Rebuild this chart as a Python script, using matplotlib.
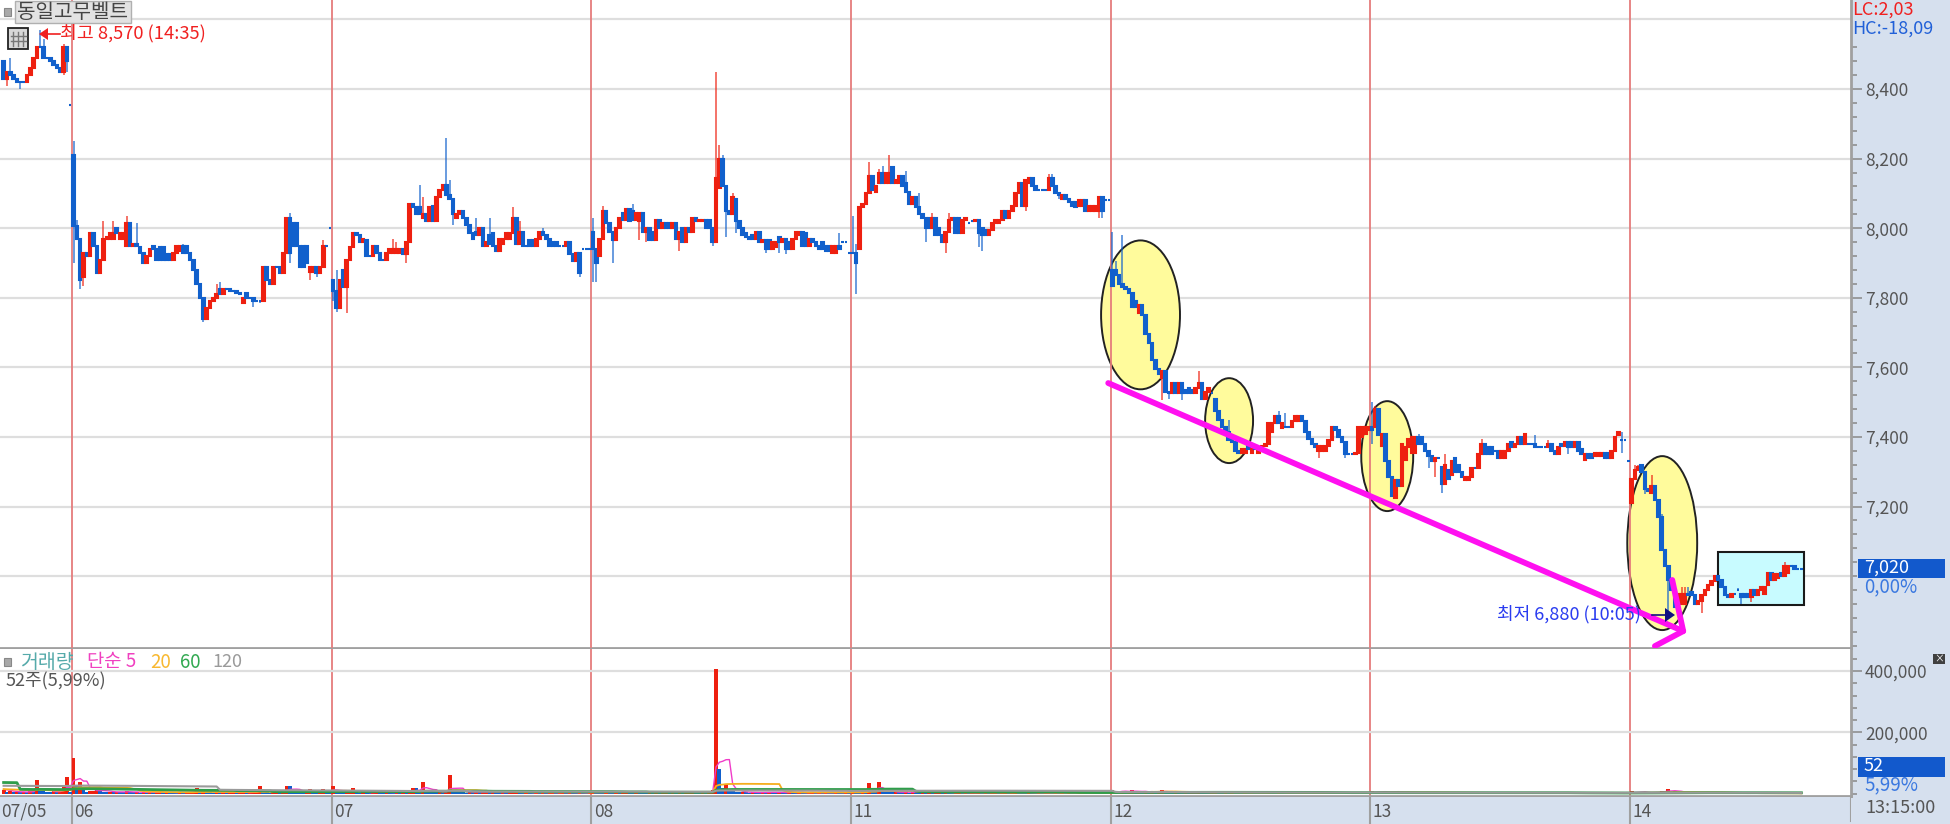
import matplotlib
matplotlib.use("Agg")
import matplotlib.pyplot as plt
from matplotlib.patches import Ellipse, Rectangle
import numpy as np
import pandas as pd

plt.rcParams['font.family'] = ['Noto Sans CJK KR', 'DejaVu Sans']

# ---------- data: 5-minute candles, closes per session ----------
day_labels = ['07/05', '06', '07', '08', '11', '12', '13', '14']
day_starts = [0, 21, 99, 177, 255, 333, 411, 489]

close_0705 = [8430, 8450, 8440, 8430, 8420, 8420, 8420, 8440, 8460, 8490, 8520, 8520, 8490, 8490, 8480, 8470, 8460, 8450, 8520, 8480, 8354]
close_0706 = [8005, 7970, 7850, 7930, 7920, 7985, 7950, 7870, 7910, 7970,
              7975, 7985, 7985, 7985, 7985, 7985, 8015, 7950, 7955, 7950,
              7930, 7900, 7920, 7940, 7940, 7910, 7910, 7910, 7910, 7910,
              7930, 7950, 7950, 7930, 7930, 7910, 7880, 7840, 7800, 7740,
              7770, 7790, 7800, 7810, 7810, 7825, 7825, 7820, 7820, 7815,
              7810, 7800, 7800, 7800, 7790, 7790, 7790, 7890, 7850, 7840,
              7890, 7890, 7870, 7930, 8030, 7930, 7950, 7950, 7890, 7890,
              7900, 7890, 7890, 7870, 7890, 7950, 7950, 8000]
close_0707 = [7820, 7770, 7850, 7830, 7910, 7945, 7985, 7980, 7960, 7970,
              7920, 7920, 7950, 7930, 7910, 7910, 7930, 7940, 7940, 7940,
              7940, 7925, 7960, 8070, 8060, 8040, 8040, 8040, 8020, 8060,
              8020, 8090, 8110, 8125, 8095, 8085, 8040, 8040, 8050, 8030,
              8010, 7985, 7970, 7980, 8000, 7950, 7960, 7955, 7950, 7935,
              7970, 7970, 7985, 7985, 8030, 7955, 7990, 7950, 7950, 7950,
              7950, 7970, 7990, 7980, 7970, 7950, 7950, 7950, 7950, 7950,
              7960, 7925, 7905, 7930, 7870, 7940, 7940, 7940]
close_0708 = [7940, 7900, 7970, 8050, 8015, 7990, 7965, 8000, 8030, 8025,
              8055, 8020, 8025, 8045, 8045, 7990, 8000, 7965, 7965, 8025,
              8000, 8015, 8000, 8000, 8015, 7970, 7990, 7960, 8000, 7990,
              8030, 8020, 8025, 8025, 8000, 8000, 7960, 8145, 8200, 8120,
              8050, 8040, 8090, 8020, 8000, 7980, 7975, 7970, 7970, 7990,
              7960, 7965, 7940, 7940, 7960, 7960, 7960, 7970, 7940, 7940,
              7970, 7990, 7990, 7950, 7950, 7970, 7960, 7950, 7940, 7940,
              7935, 7935, 7950, 7950, 7940, 7960, 7960, 7930]
close_0711 = [7930, 7900, 8060, 8070, 8100, 8150, 8110, 8120, 8160, 8130,
              8160, 8160, 8130, 8140, 8150, 8120, 8105, 8070, 8090, 8060,
              8040, 8030, 8000, 8000, 8030, 7980, 7980, 7960, 7990, 8025,
              8030, 7985, 7985, 8025, 8030, 8015, 8020, 8025, 7985, 7980,
              7980, 7995, 8015, 8025, 8025, 8050, 8030, 8050, 8065, 8100,
              8130, 8065, 8140, 8145, 8120, 8110, 8110, 8110, 8110, 8145,
              8120, 8100, 8095, 8095, 8085, 8075, 8065, 8060, 8080, 8080,
              8050, 8065, 8065, 8065, 8090, 8050, 8080, 8080]
close_0712 = [7835, 7865, 7840, 7830, 7825, 7815, 7775, 7775, 7780, 7750,
              7695, 7670, 7620, 7595, 7580, 7590, 7530, 7525, 7555, 7525,
              7555, 7525, 7525, 7525, 7525, 7540, 7555, 7510, 7530, 7540,
              7525, 7475, 7450, 7430, 7415, 7390, 7385, 7360, 7355, 7365,
              7365, 7365, 7365, 7365, 7365, 7375, 7380, 7440, 7440, 7460,
              7440, 7440, 7430, 7430, 7445, 7460, 7460, 7445, 7415, 7395,
              7380, 7370, 7375, 7375, 7375, 7390, 7430, 7420, 7400, 7385,
              7350, 7350, 7350, 7355, 7430, 7430, 7430, 7430]
close_0713 = [7420, 7480, 7405, 7410, 7330, 7285, 7230, 7275, 7260, 7380,
              7370, 7395, 7400, 7400, 7380, 7380, 7360, 7345, 7330, 7340,
              7340, 7265, 7320, 7280, 7330, 7300, 7300, 7285, 7285, 7285,
              7310, 7310, 7350, 7380, 7350, 7350, 7350, 7360, 7340, 7360,
              7360, 7380, 7370, 7380, 7400, 7380, 7410, 7380, 7380, 7370,
              7370, 7370, 7370, 7380, 7360, 7350, 7370, 7375, 7385, 7370,
              7370, 7385, 7360, 7350, 7350, 7340, 7340, 7355, 7355, 7355,
              7340, 7340, 7360, 7400, 7415, 7390, 7390, 7330]
close_0714 = [7280, 7305, 7315, 7300, 7250, 7245, 7260, 7220, 7170, 7075,
              7030, 6990, 6960, 6910, 6950, 6950, 6950, 6945, 6945, 6920,
              6930, 6945, 6960, 6975, 6985, 7000, 6990, 6970, 6945, 6940,
              6950, 6950, 6960, 6940, 6940, 6940, 6960, 6945, 6960, 6970,
              6970, 7010, 6990, 7005, 7005, 7000, 7030, 7030, 7030, 7020,
              7020, 7020]

# opens that do not equal the previous close (gaps, blocks)
open_0705 = {0: 8480, 20: 8354}
open_0706 = {0: 8210, 3: 7860, 11: 7970, 12: 7970, 13: 8000, 14: 7970, 15: 7970, 16: 7950, 18: 7950, 20: 7945,
             24: 7950, 26: 7945, 27: 7945, 28: 7925, 29: 7925, 32: 7935, 33: 7950, 34: 7950, 44: 7825, 51: 7785,
             52: 7815, 66: 8015, 67: 8015, 68: 7950, 69: 7950, 70: 7950, 71: 7875, 72: 7875, 76: 7950, 77: 8000}
open_0707 = {0: 7850, 3: 7880, 10: 7965, 12: 7920, 13: 7950, 18: 7930, 19: 7930, 20: 7930, 25: 8060, 26: 8060,
             27: 8030, 30: 8065, 37: 8030, 43: 7990, 47: 7980, 48: 7985, 51: 7955, 53: 7970, 59: 7965, 60: 7965, 66: 7960,
             67: 7960, 68: 7950, 69: 7950, 75: 7940, 76: 7940, 77: 7940}
open_0708 = {0: 7990, 2: 7920, 9: 8045, 12: 8050, 14: 8020, 18: 7990, 23: 8015, 25: 8015, 27: 8000, 32: 8020, 33: 8020,
             35: 8025, 37: 7960, 38: 8115, 39: 8200, 43: 8085, 46: 7985, 48: 7980, 53: 7965, 55: 7945, 56: 7975, 59: 7960,
             60: 7940, 62: 7980, 64: 7985, 65: 7950, 69: 7960, 70: 7950, 71: 7950, 72: 7930, 73: 7930, 75: 7960, 76: 7960, 77: 7930}
open_0711 = {0: 7930, 2: 7940, 7: 8105, 8: 8130, 10: 8130, 11: 8130, 12: 8175, 13: 8130, 14: 8130, 16: 8130, 19: 8090,
             23: 8030, 26: 8000, 31: 8030, 32: 8030, 33: 7985, 35: 8015, 36: 8020, 37: 8020, 39: 8000, 40: 7995,
             44: 8015, 47: 8030, 53: 8130, 56: 8110, 57: 8110, 58: 8110, 63: 8085, 67: 8075, 68: 8065, 69: 8065, 72: 8050, 73: 8050,
             74: 8050, 75: 8090, 76: 8080, 77: 8080}
open_0712 = {0: 7880, 1: 7880, 7: 7790, 8: 7755, 15: 7570, 20: 7525, 22: 7535, 23: 7540, 24: 7535, 28: 7510, 30: 7525,
             31: 7510, 39: 7355, 40: 7355, 41: 7375, 42: 7355, 43: 7375, 44: 7355, 48: 7415, 51: 7425, 52: 7430, 53: 7430, 56: 7445,
             62: 7360, 63: 7360, 64: 7360, 75: 7400, 76: 7410, 77: 7420}
open_0713 = {0: 7430, 1: 7430, 3: 7375, 7: 7225, 10: 7335, 12: 7355, 13: 7355, 15: 7400, 20: 7340, 21: 7315, 23: 7305, 24: 7290,
             25: 7340, 26: 7320, 28: 7275, 29: 7275, 30: 7285, 31: 7310, 35: 7370, 36: 7370, 37: 7360, 40: 7340, 42: 7385,
             45: 7400, 47: 7380, 48: 7380, 50: 7370, 51: 7370, 52: 7370, 53: 7370, 55: 7360, 56: 7350, 57: 7380, 59: 7385, 60: 7385,
             63: 7365, 64: 7335, 65: 7350, 66: 7350, 67: 7345, 68: 7345, 69: 7345, 71: 7355, 73: 7360, 74: 7405, 75: 7390, 76: 7390, 77: 7330}
open_0714 = {0: 7210, 3: 7320, 6: 7240, 14: 6920, 15: 6920, 16: 6920, 18: 6955, 32: 6960, 33: 6950, 34: 6950, 35: 6950,
             36: 6940, 38: 6945, 40: 6950, 41: 6975, 44: 6995, 45: 7010, 47: 7010, 50: 7020, 51: 7020}

# wick extremes, candle number within the session : price
high_0705 = {2: 8490, 11: 8570, 12: 8545, 18: 8530}
low_0705 = {1: 8410, 5: 8400, 18: 8440, 19: 8450}
high_0706 = {0: 8250, 1: 8025, 9: 8020, 12: 8020, 16: 8035, 19: 8015, 33: 7955, 43: 7840, 44: 7845, 65: 8045, 70: 7950, 75: 7965}
low_0706 = {0: 7900, 2: 7825, 3: 7835, 39: 7730, 54: 7775, 56: 7785, 57: 7815, 65: 7900, 71: 7850, 73: 7860}
high_0707 = {1: 7880, 18: 7970, 19: 7960, 26: 8125, 27: 8090, 34: 8260, 35: 8140, 43: 8030, 47: 8030, 54: 8060, 56: 8020, 63: 8000}
low_0707 = {0: 7790, 1: 7760, 4: 7755, 22: 7900, 36: 8010, 74: 7860}
high_0708 = {0: 8030, 3: 8065, 11: 8050, 12: 8070, 37: 8450, 38: 8240, 39: 8210, 42: 8100, 74: 7985}
low_0708 = {0: 7845, 1: 7845, 6: 7900, 14: 7965, 16: 7960, 26: 7935, 36: 7950, 40: 7975, 43: 7985, 52: 7930, 56: 7930, 58: 7925}
high_0711 = {0: 8035, 1: 7955, 5: 8190, 8: 8170, 9: 8180, 11: 8210, 16: 8165, 20: 8100, 24: 8045, 29: 8045, 49: 8085, 59: 8155, 60: 8155}
low_0711 = {1: 7810, 2: 7985, 22: 7960, 27: 7965, 28: 7930, 38: 7945, 39: 7935, 52: 8050, 62: 8085, 74: 8030, 75: 8030}
high_0712 = {0: 7990, 1: 7905, 3: 7980, 26: 7590, 35: 7450, 50: 7475, 52: 7470}
low_0712 = {15: 7505, 17: 7510, 18: 7530, 21: 7505, 62: 7340, 70: 7340}
high_0713 = {0: 7500, 1: 7490, 14: 7410, 22: 7350, 33: 7395, 49: 7405, 53: 7390, 75: 7415}
low_0713 = {0: 7380, 17: 7310, 19: 7285, 21: 7240, 59: 7350, 75: 7355}
high_0714 = {1: 7320, 2: 7320, 3: 7320, 6: 7290, 9: 7180, 15: 6970, 16: 6970, 17: 6970, 32: 6965, 46: 7040}
low_0714 = {4: 7235, 11: 6880, 21: 6895, 33: 6920, 36: 6925}

# volume per candle, thousands of shares
vol_0705 = [12, 6, 8, 5, 7, 4, 6, 5, 9, 8, 45, 10, 9, 6, 5, 8, 4, 12, 22, 55, 7]
vol_0706 = [118, 28, 39, 14, 6, 8, 10, 14, 12, 7, 5, 6, 4, 7, 6, 5, 8, 5, 4, 6, 3, 5, 4, 7, 3, 4, 6, 3, 5, 4,
            4, 3, 7, 3, 4, 5, 6, 20, 7, 8, 5, 4, 3, 6, 4, 5, 3, 4, 7, 3, 4, 5, 3, 4, 6, 7, 26, 5, 4, 3,
            5, 6, 4, 8, 26, 26, 9, 5, 4, 3, 6, 14, 4, 3, 6, 14, 8, 5]
vol_0707 = [26, 9, 6, 4, 5, 7, 20, 5, 3, 4, 4, 3, 5, 6, 4, 3, 5, 4, 3, 6, 4, 5, 3, 4, 20, 20, 9, 39, 10, 6,
            5, 4, 6, 3, 5, 60, 12, 8, 5, 4, 3, 6, 4, 5, 3, 4, 7, 3, 5, 4, 3, 5, 4, 6, 7, 9, 4, 3, 5, 4,
            3, 6, 4, 5, 3, 4, 5, 3, 4, 6, 3, 5, 4, 3, 5, 4, 3, 5]
vol_0708 = [8, 6, 5, 4, 7, 5, 3, 6, 4, 5, 7, 6, 4, 8, 5, 4, 3, 6, 4, 5, 3, 4, 6, 3, 5, 4, 7, 3, 4, 5,
            6, 4, 3, 5, 4, 8, 12, 407, 82, 20, 33, 14, 9, 7, 5, 6, 4, 3, 5, 4, 3, 5, 4, 6, 4, 3, 5, 4, 3, 6,
            4, 3, 5, 4, 3, 4, 5, 3, 4, 3, 5, 4, 3, 6, 4, 3, 5, 4]
vol_0711 = [7, 6, 5, 9, 6, 36, 8, 7, 39, 10, 6, 5, 4, 7, 5, 4, 6, 3, 5, 4, 3, 5, 4, 6, 3, 4, 5, 3, 6, 4,
            3, 4, 5, 3, 4, 2, 3, 4, 5, 3, 4, 3, 4, 5, 3, 4, 5, 3, 4, 6, 5, 4, 3, 5, 3, 2, 3, 2, 3, 4,
            3, 4, 3, 5, 3, 4, 3, 2, 3, 4, 3, 2, 3, 3, 4, 3, 2, 3]
vol_0712 = [12, 8, 5, 10, 6, 9, 11, 5, 8, 4, 10, 5, 7, 3, 9, 12, 6, 4, 3, 5, 3, 2, 3, 2, 3, 4, 5, 4, 3, 2,
            3, 6, 5, 3, 4, 3, 6, 4, 3, 2, 3, 2, 3, 2, 2, 3, 4, 8, 5, 3, 4, 2, 2, 3, 3, 2, 3, 2, 3, 2,
            2, 3, 2, 3, 4, 3, 2, 2, 3, 2, 3, 2, 2, 3, 5, 3, 2, 3]
vol_0713 = [10, 5, 6, 4, 8, 7, 6, 7, 5, 7, 4, 5, 3, 4, 3, 2, 3, 2, 2, 3, 2, 4, 3, 2, 3, 2, 2, 3, 2, 2,
            2, 3, 4, 3, 2, 2, 2, 2, 2, 2, 3, 2, 2, 3, 2, 2, 3, 2, 2, 2, 2, 2, 2, 1, 2, 2, 3, 2, 2, 2,
            2, 2, 2, 2, 2, 2, 2, 2, 2, 2, 1, 2, 3, 2, 3, 2, 2, 2]
vol_0714 = [8, 6, 5, 5, 4, 3, 3, 5, 6, 10, 8, 14, 6, 10, 5, 4, 3, 2, 2, 3, 2, 3, 2, 2, 3, 3, 2, 3, 2, 2,
            2, 1, 1, 2, 1, 1, 2, 1, 1, 1, 1, 2, 1, 2, 1, 1, 2, 1, 1, 1, 1, 0.052]
# the 120 candles before the visible window, needed by the moving averages
vol_prior = [16, 14, 18, 12, 15, 17, 13, 16, 14, 19, 15, 13, 17, 14, 16, 12, 18, 15, 14, 16,
             13, 17, 15, 14, 16, 18, 12, 15, 17, 13, 16, 14, 19, 15, 13, 17, 14, 16, 12, 18,
             15, 14, 16, 13, 17, 15, 14, 16, 18, 12, 15, 17, 13, 16, 14, 19, 15, 13, 17, 14,
             16, 12, 18, 15, 14, 1300, 16, 13, 17, 15, 14, 16, 18, 12, 15, 17, 13, 16, 14, 19,
             15, 13, 17, 14, 16, 12, 18, 15, 14, 16, 13, 17, 15, 14, 16, 18, 12, 15, 17, 13,
             16, 14, 19, 15, 13, 17, 14, 16, 12, 18, 15, 14, 16, 13, 17, 15, 14, 16, 18, 12]

ma_windows = [5, 20, 60, 120]
ma_colors = ['#F03CC8', '#F5AE1E', '#2E9E4A', '#9A9A9A']
ma_widths = [1.0, 1.3, 2.0, 1.5]

price_major = [7200, 7400, 7600, 7800, 8000, 8200, 8400]
price_grid = [7000, 7200, 7400, 7600, 7800, 8000, 8200, 8400, 8600]
vol_major = [200000, 400000]

ellipse_x = [341.5, 368.1, 415.6, 498.2]
ellipse_w = [23.7, 14.4, 15.6, 21.0]
ellipse_y = [7751, 7447, 7345, 7095]
ellipse_h = [428, 244, 316, 500]
trend_x = [331.8, 504.5]
trend_y = [7555, 6842]
arrow_x = [501.2, 504.5, 496.0]
arrow_y = [6989, 6842, 6799]
box_x = [515.0, 540.8]
box_y = [6917, 7069]

# ---------- assemble ----------
RED, BLUE = '#EE2010', '#1160CC'
sessions = [
    (close_0705, open_0705, high_0705, low_0705, vol_0705),
    (close_0706, open_0706, high_0706, low_0706, vol_0706),
    (close_0707, open_0707, high_0707, low_0707, vol_0707),
    (close_0708, open_0708, high_0708, low_0708, vol_0708),
    (close_0711, open_0711, high_0711, low_0711, vol_0711),
    (close_0712, open_0712, high_0712, low_0712, vol_0712),
    (close_0713, open_0713, high_0713, low_0713, vol_0713),
    (close_0714, open_0714, high_0714, low_0714, vol_0714),
]
rows = []
prev = None
for start, (cl, op, hi, lo, vo) in zip(day_starts, sessions):
    for k, c in enumerate(cl):
        o = op.get(k, prev if prev is not None else c)
        rows.append((start + k, o, c, hi.get(k, max(o, c)), lo.get(k, min(o, c)), vo[k] * 1000.0))
        prev = c
df = pd.DataFrame(rows, columns=['x', 'o', 'c', 'h', 'l', 'v'])
df['col'] = np.where(df.c > df.o, RED, BLUE)
# volume bars: red when volume rises against the previous bar, blue when it falls
df['vcol'] = np.where(df.v.diff().fillna(1) > 0, RED, BLUE)

W, H = 1950, 824
fx = lambda p: p / W
fy = lambda p: 1 - p / H
PANEL = '#D6E0EE'
GRID = '#DEDEDE'
SPINE = '#A0A0A0'
TICKTXT = '#555555'
DAYLINE = '#E57C7C'

fig = plt.figure(figsize=(W / 100, H / 100), dpi=100, facecolor=PANEL)
xlim = (-1.08, 554.9)
ax = fig.add_axes([0, 1 - 648 / H, 1851 / W, 648 / H], facecolor='white')
av = fig.add_axes([0, 1 - 796 / H, 1851 / W, 147 / H], facecolor='white')
ad = fig.add_axes([0, 0, 1851 / W, 27 / H], facecolor=PANEL)

for a in (ax, av, ad):
    a.set_xlim(*xlim)
    a.set_xticks([])
    for s in ('left', 'top'):
        a.spines[s].set_visible(False)
    a.spines['bottom'].set_color(SPINE)
    a.spines['bottom'].set_linewidth(2)
    a.spines['right'].set_color(SPINE)
    a.spines['right'].set_linewidth(2)

# price panel
ax.set_ylim(6793.5, 8656)
for g in price_grid:
    ax.axhline(g, color=GRID, lw=1.6, zorder=1)
for e_x, e_w, e_y, e_h in zip(ellipse_x, ellipse_w, ellipse_y, ellipse_h):
    ax.add_patch(Ellipse((e_x, e_y), e_w, e_h, fc='#FFFB9C', ec='#222222', lw=1.4, zorder=2))
ax.add_patch(Rectangle((box_x[0], box_y[0]), box_x[1] - box_x[0], box_y[1] - box_y[0],
                       fc='#C8FBFF', ec='#1A1A1A', lw=1.5, zorder=2))
for d in day_starts[1:]:
    ax.axvline(d - 0.45, color=DAYLINE, lw=1.3, zorder=3)
    av.axvline(d - 0.45, color=DAYLINE, lw=1.3, zorder=1)
ax.vlines(df.x, df.l, df.h, colors=df.col, lw=1.1, alpha=0.8, zorder=4)
ax.bar(df.x, (df.c - df.o).abs(), bottom=df[['o', 'c']].min(axis=1), width=0.78,
       color=df.col, edgecolor=df.col, linewidth=1.5, zorder=5)
ax.plot(trend_x, trend_y, color='#FF10F0', lw=4.2, solid_capstyle='round', zorder=6)
ax.plot(arrow_x, arrow_y, color='#FF10F0', lw=4.2, solid_capstyle='round', solid_joinstyle='round', zorder=6)

ax.yaxis.tick_right()
ax.set_yticks(price_major)
ax.set_yticklabels([f'{v:,}' for v in price_major])
ax.set_yticks([6800 + 40 * n for n in range(44) if (6800 + 40 * n) not in price_major], minor=True)
ax.tick_params(axis='y', which='major', length=8, width=1.1, color='#888888', labelcolor=TICKTXT,
               labelsize=12.5, pad=2)
ax.tick_params(axis='y', which='minor', length=4, width=1.1, color='#888888')

# volume panel
av.set_ylim(-7500, 471700)
for g in vol_major:
    av.axhline(g, color=GRID, lw=1.6, zorder=1)
av.bar(df.x, df.v, width=1.15, color=df.vcol, linewidth=0, zorder=2)
all_vol = pd.Series(vol_prior + list(df.v / 1000.0)) * 1000.0
for w, col, lw in zip(ma_windows, ma_colors, ma_widths):
    ma = all_vol.rolling(w).mean().iloc[len(vol_prior):].values
    av.plot(df.x, ma, color=col, lw=lw, zorder=3)
av.yaxis.tick_right()
av.set_yticks(vol_major)
av.set_yticklabels([f'{v:,}' for v in vol_major])
av.set_yticks([40000 * n for n in range(0, 12) if 40000 * n not in vol_major], minor=True)
av.tick_params(axis='y', which='major', length=8, width=1.1, color='#888888', labelcolor=TICKTXT,
               labelsize=12.5, pad=2)
av.tick_params(axis='y', which='minor', length=4, width=1.1, color='#888888')

# date strip
ad.set_ylim(0, 1)
ad.set_yticks([])
for s in ad.spines.values():
    s.set_visible(False)
for d, lab in zip(day_starts, day_labels):
    if d > 0:
        ad.axvline(d - 0.45, color=SPINE, lw=1.5)
    ad.text(d + (0.3 if d else -0.6), 0.46, lab, ha='left', va='center', fontsize=12.5, color=TICKTXT)
ad.axvline(xlim[1], color=SPINE, lw=1.5, ymin=0.1)
fig.text(fx(1865), fy(808), '13:15:00', ha='left', va='center', fontsize=13, color=TICKTXT)

# right-hand read-outs
fig.text(fx(1852), fy(10), 'LC:2,03', ha='left', va='center', fontsize=13, color='#F02020')
fig.text(fx(1852), fy(29), 'HC:-18,09', ha='left', va='center', fontsize=13, color='#2060D8')


def box(x0, y0, x1, y1, **kw):
    r = Rectangle((fx(x0), fy(y1)), fx(x1 - x0), (y1 - y0) / H, transform=fig.transFigure, zorder=20, **kw)
    fig.add_artist(r)


box(1858, 559, 1945, 578, fc='#1259CC', ec='none')
fig.text(fx(1864), fy(568), '7,020', ha='left', va='center', fontsize=13, color='white', zorder=21)
fig.text(fx(1864), fy(587), '0,00%', ha='left', va='center', fontsize=13.5, color='#3A78E0', zorder=21)
box(1858, 757, 1945, 777, fc='#1259CC', ec='none')
fig.text(fx(1864), fy(766), '52', ha='left', va='center', fontsize=13, color='white', zorder=21)
fig.text(fx(1864), fy(785), '5,99%', ha='left', va='center', fontsize=13.5, color='#3A78E0', zorder=21)
box(1933, 654, 1945, 664, fc='#404040', ec='none')
fig.text(fx(1939), fy(659), '×', ha='center', va='center', fontsize=7, color='white', zorder=21)

# top-left furniture
box(4, 8, 11, 16, fc='#A8A8A8', ec='#888888', lw=0.8)
box(15, 1, 131, 23, fc='#E2E2E2', ec='#B0B0B0', lw=1)
fig.text(fx(73), fy(12), '동일고무벨트', ha='center', va='center', fontsize=14.5, color='#444444', zorder=21)
box(8, 28, 28, 49, fc='#D8D8D8', ec='#222222', lw=1.3)
for xx in (13, 18, 23):
    fig.add_artist(plt.Line2D([fx(xx)] * 2, [fy(32), fy(46)], color='#777777', lw=1, zorder=21))
for yy in (36, 41):
    fig.add_artist(plt.Line2D([fx(11), fx(26)], [fy(yy)] * 2, color='#777777', lw=1, zorder=21))
fig.add_artist(plt.Line2D([fx(46), fx(60)], [fy(34)] * 2, color='#F02020', lw=1.2, zorder=21))
fig.add_artist(plt.Polygon([(fx(39), fy(34)), (fx(48), fy(28)), (fx(48), fy(40))], closed=True,
                           transform=fig.transFigure, fc='#F02020', ec='none', zorder=21))
fig.text(fx(60), fy(33), '최고 8,570 (14:35)', ha='left', va='center', fontsize=13.2, color='#F02020', zorder=21)

# lowest-price marker
fig.text(fx(1497), fy(614), '최저 6,880 (10:05)', ha='left', va='center', fontsize=13, color='#2A3CF0', zorder=21)
fig.add_artist(plt.Line2D([fx(1652), fx(1666)], [fy(615)] * 2, color='#101080', lw=1.2, zorder=21))
fig.add_artist(plt.Polygon([(fx(1675), fy(615)), (fx(1665), fy(608)), (fx(1665), fy(622))], closed=True,
                           transform=fig.transFigure, fc='#101080', ec='none', zorder=21))

# volume legend
box(4, 658, 11, 666, fc='#A8A8A8', ec='#888888', lw=0.8)
for x0, txt, col, fs in [(20, '거래량', '#55AAAA', 14), (87, '단순 5', '#F040C0', 13.5), (150, '20', '#F8B830', 13.5),
                         (180, '60', '#30A850', 13.5), (212, '120', '#9A9A9A', 13)]:
    fig.text(fx(x0), fy(662), txt, ha='left', va='center', fontsize=fs, color=col, zorder=21)
fig.text(fx(6), fy(681), '52주(5,99%)', ha='left', va='center', fontsize=13, color='#555555', zorder=21)

fig.savefig('out.png', dpi=100, facecolor=fig.get_facecolor())
